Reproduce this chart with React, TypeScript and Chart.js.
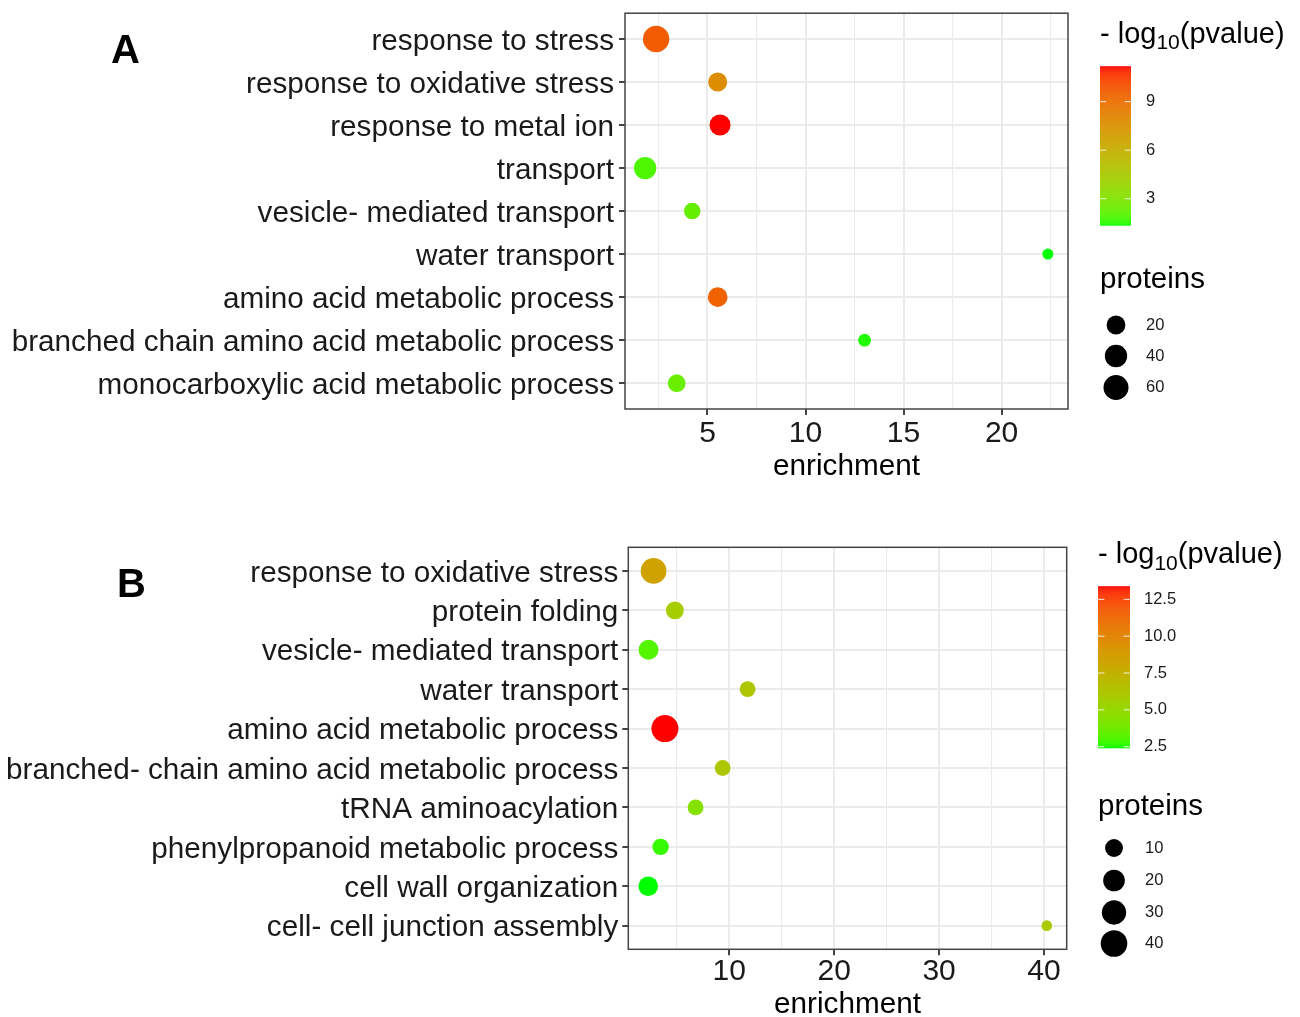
import React, { useEffect, useRef } from "react";
import { Chart, registerables } from "chart.js";

Chart.register(...registerables);

// ---------------- Panel A data ----------------
const categoriesA = [
  "response to stress",
  "response to oxidative stress",
  "response to metal ion",
  "transport",
  "vesicle- mediated transport",
  "water transport",
  "amino acid metabolic process",
  "branched chain amino acid metabolic process",
  "monocarboxylic acid metabolic process",
];
const enrichmentA = [2.38, 5.52, 5.64, 1.82, 4.22, 22.36, 5.52, 13.01, 3.43];
const log10pA = [9.7, 7.7, 11.16, 1.9, 2.3, 1.33, 9.5, 1.45, 2.4];
const proteinsA = [72, 21, 32, 40, 11, 2, 24, 3, 15];
const xMajorA = [5, 10, 15, 20];
const xMinorA = [2.5, 7.5, 12.5, 17.5, 22.5];
const colorTicksA = [3, 6, 9];
const sizeTicksA = [20, 40, 60];

// ---------------- Panel B data ----------------
const categoriesB = [
  "response to oxidative stress",
  "protein folding",
  "vesicle- mediated transport",
  "water transport",
  "amino acid metabolic process",
  "branched- chain amino acid metabolic process",
  "tRNA aminoacylation",
  "phenylpropanoid metabolic process",
  "cell wall organization",
  "cell- cell junction assembly",
];
const enrichmentB = [2.79, 4.82, 2.31, 11.75, 3.87, 9.37, 6.79, 3.46, 2.28, 40.26];
const log10pB = [8.4, 5.8, 3.1, 6.2, 13.36, 6.2, 4.4, 2.7, 2.39, 6.0];
const proteinsB = [36, 10, 15, 6, 42, 6, 6, 7, 14, 2];
const xMajorB = [10, 20, 30, 40];
const xMinorB = [5, 15, 25, 35];
const colorTicksB = [2.5, 5, 7.5, 10, 12.5];
const sizeTicksB = [10, 20, 30, 40];

const FONT = '"Liberation Sans", Arial, Helvetica, sans-serif';

// ---------- colour scale (ggplot-like Lab interpolation green -> red) ----------
function toLin(c: number) {
  c /= 255;
  return c <= 0.04045 ? c / 12.92 : Math.pow((c + 0.055) / 1.055, 2.4);
}
function fromLin(c: number) {
  const v = c <= 0.0031308 ? 12.92 * c : 1.055 * Math.pow(c, 1 / 2.4) - 0.055;
  return Math.round(Math.max(0, Math.min(1, v)) * 255);
}
const Xn = 0.95047, Yn = 1.0, Zn = 1.08883;
function fLab(t: number) {
  return t > 0.008856 ? Math.cbrt(t) : 7.787 * t + 16 / 116;
}
function fInv(t: number) {
  const t3 = t * t * t;
  return t3 > 0.008856 ? t3 : (t - 16 / 116) / 7.787;
}
function rgbToLab(rgb: number[]) {
  const r = toLin(rgb[0]), g = toLin(rgb[1]), b = toLin(rgb[2]);
  const X = 0.4124 * r + 0.3576 * g + 0.1805 * b;
  const Y = 0.2126 * r + 0.7152 * g + 0.0722 * b;
  const Z = 0.0193 * r + 0.1192 * g + 0.9505 * b;
  const fx = fLab(X / Xn), fy = fLab(Y / Yn), fz = fLab(Z / Zn);
  return [116 * fy - 16, 500 * (fx - fy), 200 * (fy - fz)];
}
function labToRgb(lab: number[]) {
  const fy = (lab[0] + 16) / 116;
  const fx = fy + lab[1] / 500;
  const fz = fy - lab[2] / 200;
  const X = fInv(fx) * Xn, Y = fInv(fy) * Yn, Z = fInv(fz) * Zn;
  const r = 3.2406 * X - 1.5372 * Y - 0.4986 * Z;
  const g = -0.9689 * X + 1.8758 * Y + 0.0415 * Z;
  const b = 0.0557 * X - 0.204 * Y + 1.057 * Z;
  return [fromLin(r), fromLin(g), fromLin(b)];
}
const LOW = rgbToLab([0, 255, 0]);
const HIGH = rgbToLab([255, 0, 0]);
function gradColor(v: number, vmin: number, vmax: number) {
  const t = Math.max(0, Math.min(1, (v - vmin) / (vmax - vmin)));
  const lab = [0, 1, 2].map((i) => LOW[i] + (HIGH[i] - LOW[i]) * t);
  const c = labToRgb(lab);
  return `rgb(${c[0]},${c[1]},${c[2]})`;
}
function sizeScale(v: number, vmin: number, vmax: number, rmin: number, rmax: number) {
  const t = Math.max(0, (v - vmin) / (vmax - vmin));
  return rmin + (rmax - rmin) * Math.sqrt(t);
}

type Panel = {
  top: number;
  height: number;
  categories: string[];
  enrichment: number[];
  log10p: number[];
  proteins: number[];
  xMajor: number[];
  xMinor: number[];
  colorTicks: number[];
  colorDecimals: number;
  sizeTicks: number[];
  yAxisWidth: number;
  padRight: number;
  padTop: number;
  xAxisHeight: number;
  xTickPad: number;
  yTickPad: number;
  titlePad: number;
  rmin: number;
  rmax: number;
  letter: { text: string; x: number; y: number };
  leg: {
    titleX: number;
    titleY: number;
    barX: number;
    barW: number;
    barTop: number;
    barBottom: number;
    labelX: number;
    sizeTitleY: number;
    dotX: number;
    dotYs: number[];
    sizeLabelX: number;
  };
};

const panelA: Panel = {
  top: 0,
  height: 508,
  categories: categoriesA,
  enrichment: enrichmentA,
  log10p: log10pA,
  proteins: proteinsA,
  xMajor: xMajorA,
  xMinor: xMinorA,
  colorTicks: colorTicksA,
  colorDecimals: 0,
  sizeTicks: sizeTicksA,
  yAxisWidth: 625,
  padRight: 232,
  padTop: 12,
  xAxisHeight: 99,
  xTickPad: 3.3,
  yTickPad: 5,
  titlePad: 28.9,
  rmin: 5.5,
  rmax: 13.2,
  letter: { text: "A", x: 111, y: 62.7 },
  leg: {
    titleX: 1100,
    titleY: 42.5,
    barX: 1100,
    barW: 31,
    barTop: 66.7,
    barBottom: 225.7,
    labelX: 1146,
    sizeTitleY: 288,
    dotX: 1116,
    dotYs: [325, 356, 387.5],
    sizeLabelX: 1146,
  },
};

const panelB: Panel = {
  top: 508,
  height: 509,
  categories: categoriesB,
  enrichment: enrichmentB,
  log10p: log10pB,
  proteins: proteinsB,
  xMajor: xMajorB,
  xMinor: xMinorB,
  colorTicks: colorTicksB,
  colorDecimals: 1,
  sizeTicks: sizeTicksB,
  yAxisWidth: 628.3,
  padRight: 233.3,
  padTop: 39.3,
  xAxisHeight: 67.7,
  xTickPad: 1.5,
  yTickPad: 4,
  titlePad: 0,
  rmin: 5.3,
  rmax: 13.5,
  letter: { text: "B", x: 117, y: 597 },
  leg: {
    titleX: 1098,
    titleY: 563.3,
    barX: 1098,
    barW: 32,
    barTop: 586.7,
    barBottom: 748.3,
    labelX: 1144,
    sizeTitleY: 815.3,
    dotX: 1114,
    dotYs: [848, 880.5, 912.5, 943.5],
    sizeLabelX: 1145,
  },
};

function makeDecor(p: Panel) {
  const cmin = Math.min(...p.log10p);
  const cmax = Math.max(...p.log10p);
  const smin = Math.min(...p.proteins);
  const smax = Math.max(...p.proteins);
  return {
    id: "ggDecor" + p.letter.text,
    afterDatasetsDraw(chart: any) {
      const { ctx, chartArea: a } = chart;
      ctx.save();
      ctx.strokeStyle = "#444";
      ctx.lineWidth = 1.5;
      ctx.strokeRect(a.left, a.top, a.right - a.left, a.bottom - a.top);
      ctx.restore();
    },
    afterDraw(chart: any) {
      const ctx: CanvasRenderingContext2D = chart.ctx;
      const o = p.top;
      const L = p.leg;
      ctx.save();
      // panel letter
      ctx.fillStyle = "#000";
      ctx.textBaseline = "alphabetic";
      ctx.textAlign = "left";
      ctx.font = `bold 40px ${FONT}`;
      ctx.fillText(p.letter.text, p.letter.x, p.letter.y - o);

      // colour legend title: - log10(pvalue)
      ctx.font = `29px ${FONT}`;
      let x = L.titleX;
      const ty = L.titleY - o;
      ctx.fillText("- log", x, ty);
      x += ctx.measureText("- log").width;
      ctx.font = `21px ${FONT}`;
      ctx.fillText("10", x, ty + 6.5);
      x += ctx.measureText("10").width;
      ctx.font = `29px ${FONT}`;
      ctx.fillText("(pvalue)", x, ty);

      // colour bar
      const h = L.barBottom - L.barTop;
      const steps = Math.ceil(h);
      for (let i = 0; i < steps; i++) {
        const frac = (i + 0.5) / steps;
        const v = cmin + (cmax - cmin) * frac;
        ctx.fillStyle = gradColor(v, cmin, cmax);
        const yb = L.barBottom - o - (i * h) / steps;
        ctx.fillRect(L.barX, yb - h / steps - 0.5, L.barW, h / steps + 0.5);
      }
      ctx.font = `16.5px ${FONT}`;
      ctx.textBaseline = "middle";
      for (const t of p.colorTicks) {
        const yy = L.barBottom - o - ((t - cmin) / (cmax - cmin)) * h;
        ctx.strokeStyle = "rgba(255,255,255,0.85)";
        ctx.lineWidth = 1;
        const tl = L.barW / 5;
        ctx.beginPath();
        ctx.moveTo(L.barX, yy);
        ctx.lineTo(L.barX + tl, yy);
        ctx.moveTo(L.barX + L.barW - tl, yy);
        ctx.lineTo(L.barX + L.barW, yy);
        ctx.stroke();
        ctx.fillStyle = "#1a1a1a";
        ctx.fillText(t.toFixed(p.colorDecimals), L.labelX, yy);
      }

      // size legend
      ctx.textBaseline = "alphabetic";
      ctx.fillStyle = "#000";
      ctx.font = `29.5px ${FONT}`;
      ctx.fillText("proteins", L.titleX, L.sizeTitleY - o);
      ctx.font = `16.5px ${FONT}`;
      ctx.textBaseline = "middle";
      p.sizeTicks.forEach((s, i) => {
        const r = sizeScale(s, smin, smax, p.rmin, p.rmax);
        const yy = L.dotYs[i] - o;
        ctx.fillStyle = "#000";
        ctx.beginPath();
        ctx.arc(L.dotX, yy, r, 0, Math.PI * 2);
        ctx.fill();
        ctx.fillStyle = "#1a1a1a";
        ctx.fillText(String(s), L.sizeLabelX, yy);
      });
      ctx.restore();
    },
  };
}

function BubblePanel({ p }: { p: Panel }) {
  const ref = useRef<HTMLCanvasElement | null>(null);
  useEffect(() => {
    if (!ref.current) return;
    const cmin = Math.min(...p.log10p);
    const cmax = Math.max(...p.log10p);
    const smin = Math.min(...p.proteins);
    const smax = Math.max(...p.proteins);
    const xlo = Math.min(...p.enrichment);
    const xhi = Math.max(...p.enrichment);
    const xr = xhi - xlo;
    const xTicks = [...p.xMajor, ...p.xMinor].sort((a, b) => a - b);
    const n = p.categories.length;
    const points = p.categories.map((_, i) => ({
      x: p.enrichment[i],
      y: i,
      r: sizeScale(p.proteins[i], smin, smax, p.rmin, p.rmax),
    }));
    const colors = p.log10p.map((v) => gradColor(v, cmin, cmax));

    const chart = new Chart(ref.current, {
      type: "bubble",
      data: {
        datasets: [
          {
            data: points,
            backgroundColor: colors,
            borderWidth: 0,
            hoverBorderWidth: 0,
          } as any,
        ],
      },
      plugins: [makeDecor(p)],
      options: {
        responsive: false,
        animation: false,
        devicePixelRatio: 1,
        events: [],
        layout: { padding: { left: 0, right: p.padRight, top: p.padTop, bottom: 0 } },
        plugins: { legend: { display: false }, tooltip: { enabled: false } },
        scales: {
          x: {
            type: "linear",
            position: "bottom",
            bounds: "data",
            min: xlo - 0.05 * xr,
            max: xhi + 0.05 * xr,
            afterBuildTicks: (axis: any) => {
              axis.ticks = xTicks.map((v) => ({ value: v }));
            },
            afterFit: (s: any) => {
              s.height = p.xAxisHeight;
              s.paddingLeft = 0;
              s.paddingRight = 0;
            },
            ticks: {
              autoSkip: false,
              maxRotation: 0,
              padding: p.xTickPad,
              color: "#1a1a1a",
              font: { family: FONT, size: 30, lineHeight: 1 },
              callback: (v: any) => (p.xMajor.includes(Number(v)) ? String(v) : ""),
            },
            grid: {
              color: "#EBEBEB",
              lineWidth: (c: any) => (c.tick && p.xMajor.includes(c.tick.value) ? 2 : 1.1),
              tickLength: 6,
              tickWidth: 2,
              tickColor: (c: any) =>
                c.tick && p.xMajor.includes(c.tick.value) ? "#444" : "rgba(0,0,0,0)",
            },
            border: { display: false },
            title: {
              display: true,
              text: "enrichment",
              color: "#000",
              font: { family: FONT, size: 29.7, lineHeight: 0.8 },
              padding: { top: 0, bottom: p.titlePad },
            },
          },
          y: {
            type: "linear",
            reverse: true,
            bounds: "data",
            min: -0.6,
            max: n - 1 + 0.6,
            afterBuildTicks: (axis: any) => {
              axis.ticks = p.categories.map((_, i) => ({ value: i }));
            },
            afterFit: (s: any) => {
              s.width = p.yAxisWidth;
              s.paddingTop = 0;
              s.paddingBottom = 0;
            },
            ticks: {
              autoSkip: false,
              padding: p.yTickPad,
              labelOffset: 2.5,
              color: "#1a1a1a",
              font: { family: FONT, size: 29.7 },
              callback: (v: any) => p.categories[Number(v)] ?? "",
            },
            grid: {
              color: "#EBEBEB",
              lineWidth: 2,
              tickLength: 6,
              tickWidth: 2,
              tickColor: "#444",
            },
            border: { display: false },
          },
        },
      } as any,
    });
    return () => chart.destroy();
  }, [p]);
  return (
    <canvas
      ref={ref}
      width={1300}
      height={p.height}
      style={{
        position: "absolute",
        left: 0,
        top: p.top,
        width: 1300,
        height: p.height,
        display: "block",
      }}
    />
  );
}

export default function App() {
  return (
    <div
      style={{
        position: "absolute",
        left: 0,
        top: 0,
        width: 1300,
        height: 1017,
        background: "#fff",
        overflow: "hidden",
      }}
    >
      <BubblePanel p={panelA} />
      <BubblePanel p={panelB} />
    </div>
  );
}
